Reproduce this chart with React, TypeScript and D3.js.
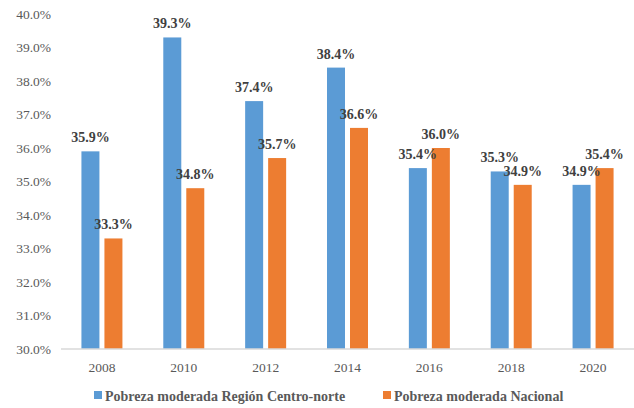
import React from 'react'
import * as d3 from 'd3'

const years = ['2008', '2010', '2012', '2014', '2016', '2018', '2020']
const regionValues = [35.9, 39.3, 37.4, 38.4, 35.4, 35.3, 34.9]
const nationalValues = [33.3, 34.8, 35.7, 36.6, 36.0, 34.9, 35.4]
const yTicks = [30, 31, 32, 33, 34, 35, 36, 37, 38, 39, 40]
const seriesNames = ['Pobreza moderada Región Centro-norte', 'Pobreza moderada Nacional']
const colors = ['#5B9BD5', '#ED7D31']

const App = () => {
  const width = 634
  const height = 408
  const margin = { top: 14, right: 0, bottom: 59, left: 61 }

  const x = d3
    .scaleBand()
    .domain(years)
    .range([margin.left, width - margin.right])

  const y = d3
    .scaleLinear()
    .domain([30, 40])
    .range([height - margin.bottom, margin.top])

  const barW = 18
  const gap = 5
  const font = 'Liberation Serif'

  const series = [regionValues, nationalValues]

  return (
    <svg
      width={width}
      height={height}
      style={{ position: 'absolute', left: 0, top: 0, background: '#fff', fontFamily: font }}>
      {/* y tick labels */}
      {yTicks.map((t) => (
        <text
          key={t}
          x={51}
          y={y(t)}
          dy="0.35em"
          textAnchor="end"
          fontSize={13.5}
          fill="#595959">
          {t.toFixed(1)}%
        </text>
      ))}

      {/* bars */}
      {series.map((vals, si) =>
        vals.map((v, i) => {
          const cx = x(years[i]) + x.bandwidth() / 2
          const bx = si === 0 ? cx - gap / 2 - barW : cx + gap / 2
          return (
            <rect
              key={`${si}-${i}`}
              x={bx}
              y={y(v)}
              width={barW}
              height={y(30) - y(v)}
              fill={colors[si]}
            />
          )
        })
      )}

      {/* x axis line */}
      <line
        x1={margin.left}
        x2={width - margin.right}
        y1={y(30)}
        y2={y(30)}
        stroke="#d9d9d9"
        strokeWidth={1.5}
      />

      {/* x tick labels */}
      {years.map((yr) => (
        <text
          key={yr}
          x={x(yr) + x.bandwidth() / 2}
          y={372}
          textAnchor="middle"
          fontSize={13.5}
          fill="#595959">
          {yr}
        </text>
      ))}

      {/* data labels */}
      {series.map((vals, si) =>
        vals.map((v, i) => {
          const cx = x(years[i]) + x.bandwidth() / 2
          const lx = si === 0 ? cx - gap / 2 - barW / 2 : cx + gap / 2 + barW / 2
          return (
            <text
              key={`l${si}-${i}`}
              x={lx}
              y={y(v) - 9}
              textAnchor="middle"
              fontSize={14}
              fontWeight="bold"
              fill="#404040">
              {v.toFixed(1)}%
            </text>
          )
        })
      )}

      {/* legend */}
      <rect x={94} y={391} width={8} height={8} fill={colors[0]} />
      <text x={105} y={401} fontSize={14} fontWeight="bold" fill="#595959">
        {seriesNames[0]}
      </text>
      <rect x={383} y={391} width={8} height={8} fill={colors[1]} />
      <text x={394} y={401} fontSize={14} fontWeight="bold" fill="#595959">
        {seriesNames[1]}
      </text>
    </svg>
  )
}

export default App
